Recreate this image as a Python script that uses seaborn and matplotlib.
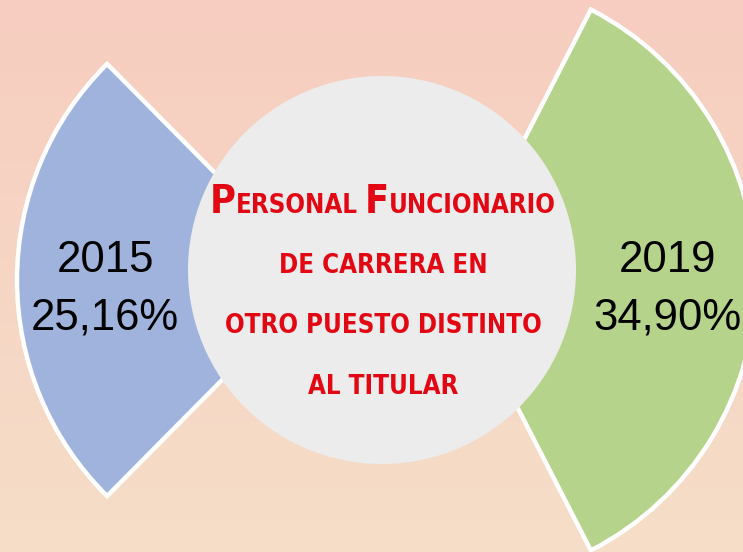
import numpy as np
import matplotlib
matplotlib.use("Agg")
import matplotlib.pyplot as plt
import matplotlib.font_manager as fm
import seaborn as sns
from matplotlib.patches import Circle

# ---- data ----
years = ["2015", "2019"]
shares = [25.16, 34.90]
share_labels = ["25,16%", "34,90%"]
wedge_colors = ["#a0b3dd", "#b6d38c"]
title_first = [("P", "big"), ("ERSONAL", "small"), (" ", "space"), ("F", "big"), ("UNCIONARIO", "small")]
title_lines = ["DE CARRERA EN", "OTRO PUESTO DISTINTO", "AL TITULAR"]

sns.set_theme(style="white")
plt.rcParams["font.family"] = ["Liberation Sans", "DejaVu Sans"]


def _num(v, table, default):
    if isinstance(v, (int, float)):
        return v
    return table.get(str(v), default)


def pick_condensed_bold():
    best = None
    for f in fm.fontManager.ttflist:
        st = _num(f.stretch, fm.stretch_dict, 500)
        wt = _num(f.weight, fm.weight_dict, 400)
        low = (f.name + " " + f.fname).lower()
        if ("condensed" in low or "narrow" in low) and st == 500:
            st = 400 if "semi" in low else (200 if "extra" in low else 300)
        if "italic" in low or "oblique" in low or f.style != "normal":
            continue
        if st >= 500 or wt < 600:
            continue
        score = abs(st - 200) + abs(wt - 700) / 10
        if best is None or score < best[0]:
            best = (score, f.fname, f.name)
    return best


choice = pick_condensed_bold()
if choice is not None:
    tprop = fm.FontProperties(fname=choice[1])
else:
    tprop = fm.FontProperties(family=["DejaVu Sans"], weight="bold", stretch="condensed")

W, H = 743, 552
fig = plt.figure(figsize=(W / 100, H / 100), dpi=100)
ax = fig.add_axes([0, 0, 1, 1])

# background gradient
top = np.array([247, 205, 192]) / 255
bot = np.array([245, 222, 200]) / 255
t = np.linspace(0, 1, 256)[:, None, None]
grad = top * (1 - t) + bot * t
grad = np.repeat(grad, 2, axis=1)
ax.imshow(grad, extent=[0, W, H, 0], aspect="auto", zorder=0, interpolation="bilinear")

# pie wedges (with invisible gaps)
gap = (100 - sum(shares)) / 2
values = [shares[0], gap, shares[1], gap]
start = 180 - shares[0] * 3.6 / 2
pie_center = (382, 280)
pie_r = 304
wedges, _ = ax.pie(values, startangle=start, radius=pie_r, center=pie_center,
                   explode=[61, 0, 70, 0], frame=True,
                   colors=[wedge_colors[0], "none", wedge_colors[1], "none"],
                   wedgeprops=dict(edgecolor="white", linewidth=3.2, zorder=2))
wedges[1].set_visible(False)
wedges[3].set_visible(False)

# central circle
ax.add_patch(Circle((382, 270), 194, facecolor="#ececec", edgecolor="none", zorder=3))

ax.set_xlim(0, W)
ax.set_ylim(H, 0)
ax.set_aspect("auto")
ax.axis("off")

# wedge labels
for w, yr, lab in zip([wedges[0], wedges[2]], years, share_labels):
    mid = np.deg2rad((w.theta1 + w.theta2) / 2)
    cx, cy = w.center
    lx = cx + 0.71 * w.r * np.cos(mid)
    ax.text(lx, 260, yr, ha="center", va="center", fontsize=31.5, color="black", zorder=4)
    ax.text(lx, 318, lab, ha="center", va="center", fontsize=31.5, color="black", zorder=4)

# central title (small caps look)
red = "#e30613"
fig.canvas.draw()
r = fig.canvas.get_renderer()

probe = ax.text(0, 0, title_lines[1], fontproperties=tprop, fontsize=23)
pw = probe.get_window_extent(r).width
probe.remove()
small = min(23.0, 23.0 * 318 / pw)
big = small * 35 / 23

pieces = []
total = 0
for txt, kind in title_first:
    if kind == "space":
        sp = small * 0.35
        total += sp
        pieces.append((None, sp))
        continue
    size = big if kind == "big" else small
    tx = ax.text(0, 213, txt, ha="left", va="baseline", fontproperties=tprop, fontsize=size,
                 color=red, zorder=5)
    wpx = tx.get_window_extent(r).width
    pieces.append((tx, wpx))
    total += wpx
x = 383 - total / 2
for tx, wpx in pieces:
    if tx is not None:
        tx.set_x(x)
    x += wpx

for line, yb in zip(title_lines, [273, 333, 394]):
    ax.text(383, yb, line, ha="center", va="baseline", fontproperties=tprop, fontsize=small,
            color=red, zorder=5)

fig.savefig("out.png", dpi=100)
